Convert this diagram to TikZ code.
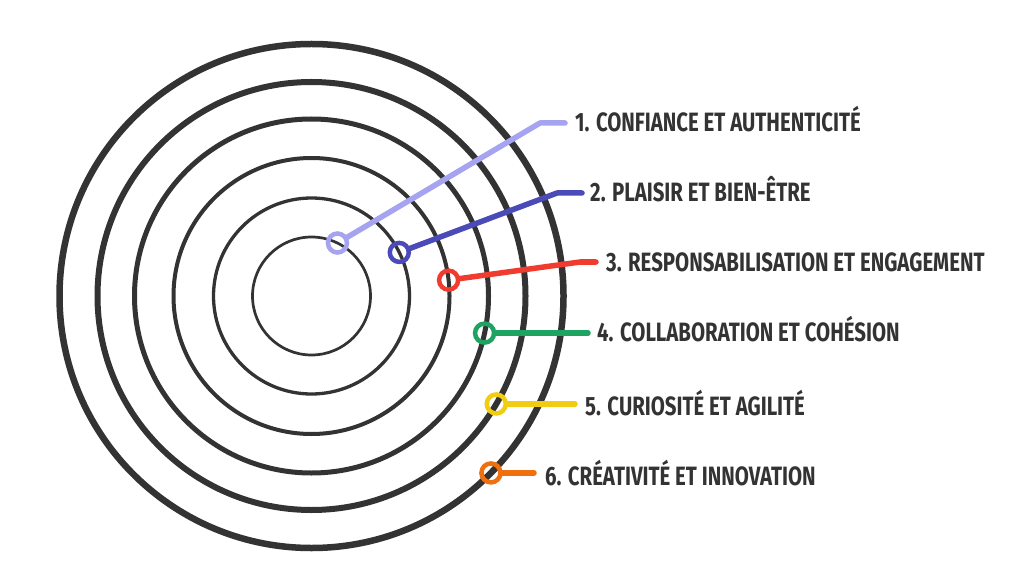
\documentclass[tikz,border=0pt]{standalone}
\usepackage{fontspec}
\setmainfont{Fira Sans}[FakeStretch=0.77]
\usetikzlibrary{calc}
\definecolor{ink}{HTML}{333333}
\definecolor{cA}{HTML}{A6A3F0}
\definecolor{cB}{HTML}{4A4AB8}
\definecolor{cC}{HTML}{F03C2E}
\definecolor{cD}{HTML}{1FA363}
\definecolor{cE}{HTML}{F2CC10}
\definecolor{cF}{HTML}{F07010}
\begin{document}
\begin{tikzpicture}[x=1pt,y=1pt,
  ringnode/.style={circle,minimum size=22pt,inner sep=0pt,outer sep=0pt},
  ringline/.style={line width=4.5pt},
  conn/.style={line width=5.5pt,line cap=round,line join=round},
  lbl/.style={anchor=west,inner sep=0pt,text height=18pt,text depth=0pt,text=ink,
    font=\fontsize{26.5}{30}\selectfont\bfseries}]
\useasboundingbox (0,0) rectangle (1024,587);
\fill[white] (0,0) rectangle (1024,587);
\coordinate (c) at (311.5,291);
% concentric circles
\draw[ink,line width=6.5pt] (c) circle (252);
\draw[ink,line width=6pt] (c) circle (214);
\draw[ink,line width=5pt] (c) circle (177);
\draw[ink,line width=4pt] (c) circle (138);
\draw[ink,line width=3.3pt] (c) circle (98);
\draw[ink,line width=2.7pt] (c) circle (59);
% rings
\node[ringnode] (r1) at ($(c)+(63.9:59)$) {};
\node[ringnode] (r2) at ($(c)+(26.4:98)$) {};
\node[ringnode] (r3) at ($(c)+(6.6:138)$) {};
\node[ringnode] (r4) at ($(c)+(-12.1:177)$) {};
\node[ringnode] (r5) at ($(c)+(-30.3:214)$) {};
\node[ringnode] (r6) at ($(c)+(-44.6:252)$) {};
\draw[ringline,cA] (r1.center) circle (9.5);
\draw[ringline,cB] (r2.center) circle (9.5);
\draw[ringline,cC] (r3.center) circle (9.5);
\draw[ringline,cD] (r4.center) circle (9.5);
\draw[ringline,cE] (r5.center) circle (9.5);
\draw[ringline,cF] (r6.center) circle (9.5);
% labels
\node[lbl] (l1) at (575,464) {1. CONFIANCE ET AUTHENTICITÉ};
\node[lbl] (l2) at (590,394) {2. PLAISIR ET BIEN-ÊTRE};
\node[lbl] (l3) at (606,325) {3. RESPONSABILISATION ET ENGAGEMENT};
\node[lbl] (l4) at (597,255) {4. COLLABORATION ET COHÉSION};
\node[lbl] (l5) at (585,181) {5. CURIOSITÉ ET AGILITÉ};
\node[lbl] (l6) at (545,111) {6. CRÉATIVITÉ ET INNOVATION};
% bends
\coordinate (b1) at (540,464);
\coordinate (b2) at (557,394);
\coordinate (b3) at (580,325);
% connectors
\draw[conn,cA] (r1) -- (b1) -- ([xshift=-10pt]l1.west);
\draw[conn,cB] (r2) -- (b2) -- ([xshift=-8pt]l2.west);
\draw[conn,cC] (r3) -- (b3) -- ([xshift=-10pt]l3.west);
\draw[conn,cD] (r4) -- ([xshift=-9pt]l4.west |- r4);
\draw[conn,cE] (r5) -- ([xshift=-10pt]l5.west |- r5);
\draw[conn,cF] (r6) -- ([xshift=-11pt]l6.west |- r6);
\end{tikzpicture}
\end{document}
